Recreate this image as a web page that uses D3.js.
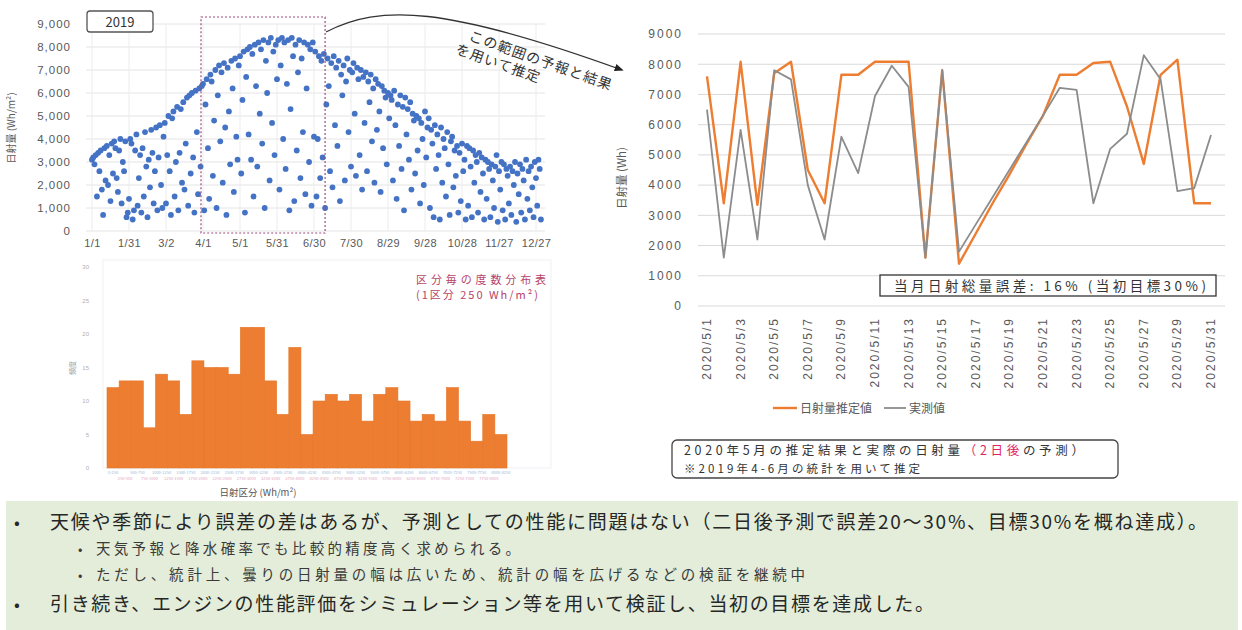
<!DOCTYPE html>
<html>
<head>
<meta charset="utf-8">
<script src="https://cdn.jsdelivr.net/npm/d3@7"></script>
<style>
  html, body { margin: 0; padding: 0; background: #ffffff; }
  svg { display: block; font-family: "Noto Sans CJK JP", "Noto Sans", sans-serif; }
</style>
</head>
<body>
<svg id="chart" width="1242" height="630"></svg>
<script>
// ---------------- data ----------------
// daily solar radiation 2019 (Wh/m2), Jan 1 .. Dec 31
const radiation2019 = [
  // Jan
  3100,3200,2900,3300,1500,3400,2600,3500,1800,700,3600,2200,3700,2000,3300,1300,3800,2500,3900,3600,2300,1700,3500,4000,1200,3000,2600,3900,600,800,1400,
  // Feb
  4000,3800,500,900,3500,4200,1100,2300,3300,800,3600,1500,4300,2800,600,3100,1900,4400,3400,1200,2600,4500,900,3200,4600,2000,1000,4100,
  // Mar
  4700,1200,3300,5000,2600,700,4900,5200,1500,3000,5400,900,3400,5300,2100,5600,1800,3800,5800,1100,5900,2500,6000,3200,800,6100,4300,1600,6200,2800,6300,
  // Apr
  6400,900,5500,6600,3600,1400,6800,6500,2400,4800,7000,1000,5900,7200,3900,6900,2100,7300,4500,700,7100,5200,2900,7400,6200,1700,7500,4100,3100,7200,
  // May
  7600,2500,5700,7800,800,6700,7900,4200,8000,3100,7700,1500,8100,6300,2800,8200,5100,7900,3800,8300,1000,7400,6000,8200,2200,8400,4700,7800,3300,8100,6600,
  // Jun
  8300,1800,7200,8400,4000,8200,2700,6400,8300,900,5300,8400,7600,1300,8100,3500,6900,8300,2300,7500,4300,8200,1600,6200,8100,3000,7900,1100,8200,4100,
  // Jul
  7800,1500,4000,7600,2300,7400,3200,7700,1000,5500,7500,6300,2600,7300,1900,7600,4600,7100,3700,7400,1300,6800,5900,7200,2200,6500,7500,4300,7000,2800,6900,
  // Aug
  7300,5100,2400,7100,6600,3300,7000,1800,6700,4700,6900,2600,6500,5600,6800,3900,6200,2100,6600,4400,6400,5200,1700,6300,3600,6100,5800,2900,6000,4900,5900,
  // Sep
  5700,2200,6100,4600,1400,5500,3700,5900,2700,5400,900,5800,4200,5300,3100,5600,1800,5100,4800,2500,5000,3500,4900,1200,4700,4000,2000,5200,3200,4500,
  // Oct
  4900,1000,4400,3800,600,4600,2700,4200,3300,500,4500,2100,4000,3600,1500,4300,2900,700,3900,4100,1900,3500,2400,3700,800,3400,1300,3800,2600,3100,500,
  // Nov
  3700,1100,3600,2800,600,3500,2100,3300,3000,800,3400,1700,3200,2500,500,3100,1400,3000,2700,600,2900,2200,1000,2800,3300,400,2600,1800,3000,900,
  // Dec
  2900,500,2700,2400,1200,2800,700,2600,2000,3000,400,2500,1600,2900,800,2700,2200,500,3100,1400,2600,900,2800,1900,600,3000,2300,1100,3100,2700,500
];
const scatterTickDays   = [1, 31, 61, 91, 121, 151, 181, 211, 241, 271, 301, 331, 361];
const scatterTickLabels = ["1/1","1/31","3/2","4/1","5/1","5/31","6/30","7/30","8/29","9/28","10/28","11/27","12/27"];
const statRangeDays = [91, 190];   // Apr 1 .. early Jul

// frequency per 250 Wh/m2 class
const histCounts = [12,13,13,6,14,13,8,16,15,15,14,21,21,13,8,18,5,10,11,10,11,7,11,12,10,7,8,7,12,7,4,8,5];
const histBinWidth = 250;
const histTicks = [0, 5, 10, 15, 20, 25, 30];

// May 2020: forecast vs measured daily radiation (Wh)
const mayDays = [1,2,3,4,5,6,7,8,9,10,11,12,13,14,15,16,17,18,19,20,21,22,23,24,25,26,27,28,29,30,31];
const forecastMay = [7600,3400,8080,3350,7700,8080,4500,3400,7650,7650,8080,8080,8080,1600,7800,1400,2400,3400,4350,5350,6300,7650,7650,8040,8080,6600,4700,7650,8150,3400,3400];
const measuredMay = [6500,1600,5830,2200,7800,7500,4000,2200,5600,4400,6950,7950,7250,1600,7800,1800,2700,3600,4500,5400,6300,7220,7150,3400,5200,5700,8300,7500,3800,3900,5660];
const lineTicks = [0,1000,2000,3000,4000,5000,6000,7000,8000,9000];

const svg = d3.select("#chart");
const ORANGE = "#ed7d31", GRAY = "#8c8c8c", BLUE = "#4472c4", AXIS_TXT = "#595959";
const LATIN = '"Liberation Sans", Arial, sans-serif';

// ---------------- scatter: 2019 daily radiation ----------------
const sx = d3.scaleLinear().domain([1, 361]).range([92, 536]);
const sy = d3.scaleLinear().domain([0, 9000]).range([231, 24]);
const gs = svg.append("g");

gs.append("g").selectAll("line").data(sy.ticks(9)).join("line")
  .attr("x1", 86).attr("x2", 545)
  .attr("y1", d => sy(d)).attr("y2", d => sy(d))
  .attr("stroke", "#e4e4e4").attr("stroke-width", 1);
gs.append("g").selectAll("line").data(scatterTickDays).join("line")
  .attr("x1", d => sx(d)).attr("x2", d => sx(d))
  .attr("y1", 24).attr("y2", 231)
  .attr("stroke", "#ececec").attr("stroke-width", 1);

const syAxis = gs.append("g").attr("transform", "translate(74,0)")
  .call(d3.axisLeft(sy).ticks(9).tickFormat(d3.format(",")).tickSize(0));
syAxis.select(".domain").remove();
syAxis.selectAll("text").attr("fill", AXIS_TXT).style("font-size", "11.5px")
  .style("letter-spacing", "1px").style("font-family", LATIN);

const sxAxis = gs.append("g").attr("transform", "translate(0,236)")
  .call(d3.axisBottom(sx).tickValues(scatterTickDays)
    .tickFormat((d, i) => scatterTickLabels[i]).tickSize(0));
sxAxis.select(".domain").remove();
sxAxis.selectAll("text").attr("fill", AXIS_TXT).style("font-size", "11px")
  .style("letter-spacing", "0.4px").style("font-family", LATIN);

gs.append("text")
  .attr("transform", "translate(15,128) rotate(-90)")
  .attr("text-anchor", "middle").attr("fill", AXIS_TXT)
  .style("font-size", "10px").text("日射量 (Wh/m²)");

gs.append("g").selectAll("circle")
  .data(radiation2019.map((v, i) => ({ day: i + 1, v })))
  .join("circle")
  .attr("cx", d => sx(d.day)).attr("cy", d => sy(d.v))
  .attr("r", 2.9).attr("fill", BLUE);

// year label box
gs.append("rect").attr("x", 87).attr("y", 11).attr("width", 66).attr("height", 21)
  .attr("rx", 3).attr("fill", "#fff").attr("stroke", "#555").attr("stroke-width", 1.3);
gs.append("text").attr("x", 120).attr("y", 26.5).attr("text-anchor", "middle")
  .attr("fill", "#333").style("font-size", "13px").text("2019");

// statistics range box
gs.append("rect")
  .attr("x", sx(statRangeDays[0]) - 2).attr("y", 17)
  .attr("width", sx(statRangeDays[1]) - sx(statRangeDays[0]) + 2).attr("height", 216)
  .attr("fill", "none").attr("stroke", "#9c4f7c").attr("stroke-width", 1.2)
  .attr("stroke-dasharray", "2,2");

// curved arrow to the May chart
const defs = svg.append("defs");
defs.append("marker").attr("id", "arrowHead").attr("viewBox", "0 0 10 10")
  .attr("refX", 8).attr("refY", 5).attr("markerWidth", 7).attr("markerHeight", 7)
  .attr("orient", "auto")
  .append("path").attr("d", "M0,1 L10,5 L0,9 Z").attr("fill", "#222");
svg.append("path")
  .attr("d", "M326,32 C380,4 445,6 622,70")
  .attr("fill", "none").attr("stroke", "#333").attr("stroke-width", 1.3)
  .attr("marker-end", "url(#arrowHead)");
const note = svg.append("g").attr("transform", "translate(468,40) rotate(19.5)");
note.append("text").attr("x", 0).attr("y", 0).attr("fill", "#333")
  .style("font-size", "14px").attr("textLength", 150).attr("lengthAdjust", "spacing")
  .text("この範囲の予報と結果");
note.append("text").attr("x", -8).attr("y", 17).attr("fill", "#333")
  .style("font-size", "14px").attr("textLength", 88).attr("lengthAdjust", "spacing")
  .text("を用いて推定");

// ---------------- histogram ----------------
const hx = d3.scaleBand().domain(d3.range(histCounts.length)).range([107, 507]).padding(0);
const hy = d3.scaleLinear().domain([0, 30]).range([468, 267]);
const gh = svg.append("g");

gh.append("rect").attr("x", 103).attr("y", 260).attr("width", 448).attr("height", 208)
  .attr("fill", "none").attr("stroke", "#edf1f6").attr("stroke-width", 1);

const hyAxis = gh.append("g").attr("transform", "translate(92,0)")
  .call(d3.axisLeft(hy).tickValues(histTicks).tickSize(0));
hyAxis.select(".domain").remove();
hyAxis.selectAll("text").attr("fill", "#b0b0b0").style("font-size", "6px");
gh.append("text").attr("transform", "translate(75,368) rotate(-90)")
  .attr("text-anchor", "middle").attr("fill", "#9a9a9a").style("font-size", "7px").text("頻度");

gh.append("g").selectAll("rect").data(histCounts).join("rect")
  .attr("x", (d, i) => hx(i)).attr("width", hx.bandwidth())
  .attr("y", d => hy(d)).attr("height", d => hy(0) - hy(d))
  .attr("fill", ORANGE).attr("stroke", "#e5772a").attr("stroke-width", 0.6);

gh.append("g").selectAll("text").data(histCounts).join("text")
  .attr("x", (d, i) => hx(i) + hx.bandwidth() / 2)
  .attr("y", (d, i) => i % 2 === 0 ? 474 : 480)
  .attr("text-anchor", "middle")
  .attr("fill", (d, i) => i % 2 === 0 ? "#9bbad8" : "#e2a8bd")
  .style("font-size", "4px")
  .text((d, i) => `${i * histBinWidth}-${(i + 1) * histBinWidth}`);

gh.append("text").attr("x", 258).attr("y", 496).attr("text-anchor", "middle")
  .attr("fill", "#555").style("font-size", "9.5px").text("日射区分 (Wh/m²)");

gh.append("text").attr("x", 416).attr("y", 284).attr("fill", "#b8436a")
  .style("font-size", "11px").attr("textLength", 130).attr("lengthAdjust", "spacing")
  .text("区分毎の度数分布表");
gh.append("text").attr("x", 416).attr("y", 299).attr("fill", "#b8436a")
  .style("font-size", "11px").attr("textLength", 122).attr("lengthAdjust", "spacing")
  .text("(1区分 250 Wh/m²)");

// ---------------- May 2020 forecast vs measured ----------------
const rx = d3.scaleLinear().domain([1, 31]).range([707, 1211]);
const ry = d3.scaleLinear().domain([0, 9000]).range([306, 34]);
const gr = svg.append("g");

gr.append("g").selectAll("line").data(lineTicks).join("line")
  .attr("x1", 698).attr("x2", 1225)
  .attr("y1", d => ry(d)).attr("y2", d => ry(d))
  .attr("stroke", "#d9d9d9").attr("stroke-width", 1);

const ryAxis = gr.append("g").attr("transform", "translate(686,0)")
  .call(d3.axisLeft(ry).tickValues(lineTicks).tickFormat(d3.format("d")).tickSize(0));
ryAxis.select(".domain").remove();
ryAxis.selectAll("text").attr("fill", AXIS_TXT).style("font-size", "12px")
  .style("letter-spacing", "2px").style("font-family", LATIN);

gr.append("g").selectAll("text").data(mayDays.filter(d => d % 2 === 1)).join("text")
  .attr("transform", d => `translate(${rx(d) + 4},317) rotate(-90)`)
  .attr("text-anchor", "end").attr("fill", AXIS_TXT)
  .style("font-size", "12px").style("letter-spacing", "2px").style("font-family", LATIN)
  .text(d => `2020/5/${d}`);

gr.append("text").attr("transform", "translate(626,178) rotate(-90)")
  .attr("text-anchor", "middle").attr("fill", AXIS_TXT)
  .style("font-size", "11.5px").text("日射量 (Wh)");

const line = d3.line().x((d, i) => rx(mayDays[i])).y(d => ry(d));
gr.append("path").datum(forecastMay).attr("d", line)
  .attr("fill", "none").attr("stroke", ORANGE).attr("stroke-width", 2.4)
  .attr("stroke-linejoin", "round");
gr.append("path").datum(measuredMay).attr("d", line)
  .attr("fill", "none").attr("stroke", GRAY).attr("stroke-width", 1.8)
  .attr("stroke-linejoin", "round");

// legend
const lg = gr.append("g").attr("transform", "translate(0,408)");
lg.append("line").attr("x1", 773).attr("x2", 797).attr("stroke", ORANGE).attr("stroke-width", 2.4);
lg.append("text").attr("x", 800).attr("y", 4.5).attr("fill", AXIS_TXT).style("font-size", "12px").text("日射量推定値");
lg.append("line").attr("x1", 884).attr("x2", 906).attr("stroke", GRAY).attr("stroke-width", 1.8);
lg.append("text").attr("x", 909).attr("y", 4.5).attr("fill", AXIS_TXT).style("font-size", "12px").text("実測値");

// error summary box
gr.append("rect").attr("x", 880).attr("y", 275).attr("width", 336).attr("height", 21)
  .attr("fill", "#fff").attr("stroke", "#333").attr("stroke-width", 1.3);
gr.append("text").attr("x", 894).attr("y", 290.5).attr("fill", "#333")
  .style("font-size", "13.5px").attr("textLength", 312).attr("lengthAdjust", "spacing")
  .text("当月日射総量誤差: 16% (当初目標30%)");

// caption box
gr.append("rect").attr("x", 672).attr("y", 440).attr("width", 446).attr("height", 38)
  .attr("rx", 5).attr("fill", "#fff").attr("stroke", "#444").attr("stroke-width", 1.3);
const cap = gr.append("text").attr("x", 684).attr("y", 454.5).attr("fill", "#333")
  .style("font-size", "12.5px").attr("textLength", 400).attr("lengthAdjust", "spacing");
cap.append("tspan").text("2020年5月の推定結果と実際の日射量");
cap.append("tspan").attr("fill", "#e0245e").text("（2日後");
cap.append("tspan").text("の予測）");
gr.append("text").attr("x", 684).attr("y", 473).attr("fill", "#333")
  .style("font-size", "11.5px").attr("textLength", 236).attr("lengthAdjust", "spacing")
  .text("※2019年4-6月の統計を用いて推定");

// ---------------- summary panel ----------------
const gp = svg.append("g");
gp.append("rect").attr("x", 6).attr("y", 501).attr("width", 1232).attr("height", 129)
  .attr("fill", "#e3edd9");
const bullets = [
  { x: 50, bx: 14, y: 529, size: 19, len: 1157, color: "#262626",
    t: "天候や季節により誤差の差はあるが、予測としての性能に問題はない（二日後予測で誤差20～30%、目標30%を概ね達成）。" },
  { x: 96, bx: 78, y: 554, size: 14.5, len: 424, color: "#3a3a3a",
    t: "天気予報と降水確率でも比較的精度高く求められる。" },
  { x: 96, bx: 78, y: 580, size: 14.5, len: 709, color: "#3a3a3a",
    t: "ただし、統計上、曇りの日射量の幅は広いため、統計の幅を広げるなどの検証を継続中" },
  { x: 50, bx: 14, y: 611, size: 19, len: 884, color: "#262626",
    t: "引き続き、エンジンの性能評価をシミュレーション等を用いて検証し、当初の目標を達成した。" }
];
gp.selectAll("text.b").data(bullets).join("text").attr("class", "b")
  .attr("x", d => d.bx).attr("y", d => d.y).attr("fill", d => d.color)
  .style("font-size", d => (d.size * 0.9) + "px").text("•");
gp.selectAll("text.t").data(bullets).join("text").attr("class", "t")
  .attr("x", d => d.x).attr("y", d => d.y).attr("fill", d => d.color)
  .style("font-size", d => d.size + "px")
  .attr("textLength", d => d.len).attr("lengthAdjust", "spacing")
  .text(d => d.t);
</script>
</body>
</html>
